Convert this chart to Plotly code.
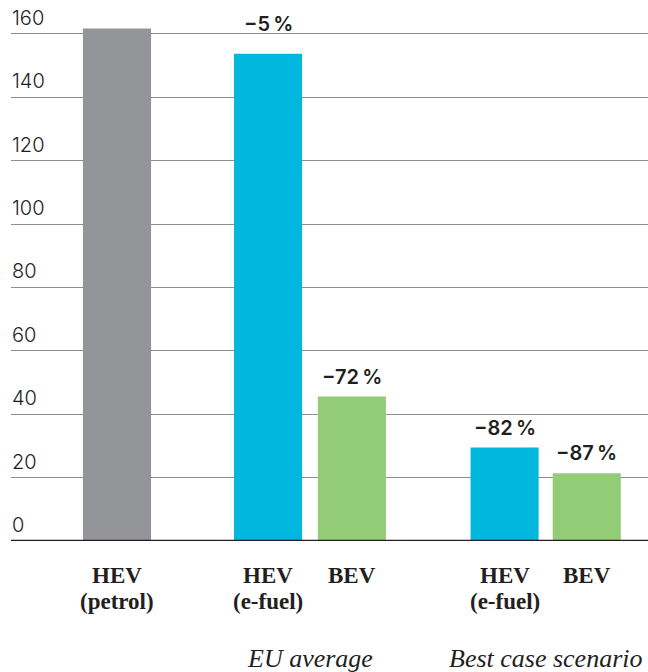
import plotly.graph_objects as go

# Lifecycle CO2 emissions (g CO2e / km) by drivetrain and fuel scenario
bar_line1 = ["HEV", "HEV", "BEV", "HEV", "BEV"]
bar_line2 = ["(petrol)", "(e-fuel)", "", "(e-fuel)", ""]
emissions = [161.7, 153.8, 45.6, 29.5, 21.4]
groups = ["EU average", "Best case scenario"]
group_members = [[1, 2], [3, 4]]
y_ticks = [0, 20, 40, 60, 80, 100, 120, 140, 160]

GRAY = "#939598"
BLUE = "#00b7de"
GREEN = "#92cc76"
INK = "#231f20"
bar_colors = [GRAY, BLUE, GREEN, BLUE, GREEN]

# horizontal slot layout: reference bar, then two pairs separated by gaps
x_pos = [0.0, 1.82, 2.83, 4.67, 5.66]
bar_width = 0.82

baseline = emissions[0]
pct_text = [None] + [
    f"\u2212{abs(round((v / baseline - 1) * 100))}\u202f%" for v in emissions[1:]
]
# lift of each change label above its bar (px); the first clears the top gridline
label_lift = [0, 16, 6, 6, 6]

fig = go.Figure()
fig.add_trace(
    go.Bar(
        x=x_pos,
        y=emissions,
        width=bar_width,
        marker=dict(color=bar_colors, line=dict(width=0)),
        hoverinfo="skip",
    )
)

annotations = []

# y tick labels sit left-aligned just above their gridlines
for t in y_ticks:
    annotations.append(
        dict(
            x=0, y=t, xref="paper", yref="y",
            text=str(t), showarrow=False,
            xanchor="left", yanchor="bottom", yshift=2, xshift=-1,
            font=dict(family="Inter", size=20, color="#1e1e1e", weight=300),
        )
    )

for i, v in enumerate(emissions):
    if pct_text[i]:
        annotations.append(
            dict(
                x=x_pos[i], y=v, xref="x", yref="y",
                text=pct_text[i], showarrow=False,
                yanchor="bottom", yshift=label_lift[i],
                font=dict(family="Inter", size=20, color=INK, weight=600),
            )
        )
    annotations.append(
        dict(
            x=x_pos[i], y=0, xref="x", yref="paper",
            text=f"<b>{bar_line1[i]}</b>", showarrow=False,
            yanchor="middle", yshift=-34,
            font=dict(family="Liberation Serif", size=23, color=INK),
        )
    )
    if bar_line2[i]:
        annotations.append(
            dict(
                x=x_pos[i], y=0, xref="x", yref="paper",
                text=f"<b>{bar_line2[i]}</b>", showarrow=False,
                yanchor="middle", yshift=-60,
                font=dict(family="Liberation Serif", size=23, color=INK),
            )
        )

for name, members in zip(groups, group_members):
    cx = sum(x_pos[m] for m in members) / len(members)
    annotations.append(
        dict(
            x=cx, y=0, xref="x", yref="paper",
            text=f"<i>{name}</i>", showarrow=False,
            yanchor="middle", yshift=-117,
            font=dict(family="Liberation Serif", size=26, color=INK),
        )
    )

fig.update_layout(
    width=648,
    height=672,
    margin=dict(l=11, r=0, t=8, b=131),
    paper_bgcolor="white",
    plot_bgcolor="white",
    showlegend=False,
    annotations=annotations,
    xaxis=dict(
        range=[-1.277, 6.398],
        showticklabels=False,
        showgrid=False,
        zeroline=False,
        showline=False,
        fixedrange=True,
    ),
    yaxis=dict(
        range=[0, 168.2],
        tickvals=y_ticks,
        showticklabels=False,
        ticks="",
        showgrid=True,
        gridcolor="#8e8e8e",
        gridwidth=1.2,
        zeroline=False,
        showline=False,
        fixedrange=True,
    ),
    shapes=[
        dict(
            type="line", xref="paper", yref="y",
            x0=0, x1=1, y0=0, y1=0,
            line=dict(color=INK, width=2.6),
            layer="above",
        )
    ],
)

fig.write_html("out.html")
